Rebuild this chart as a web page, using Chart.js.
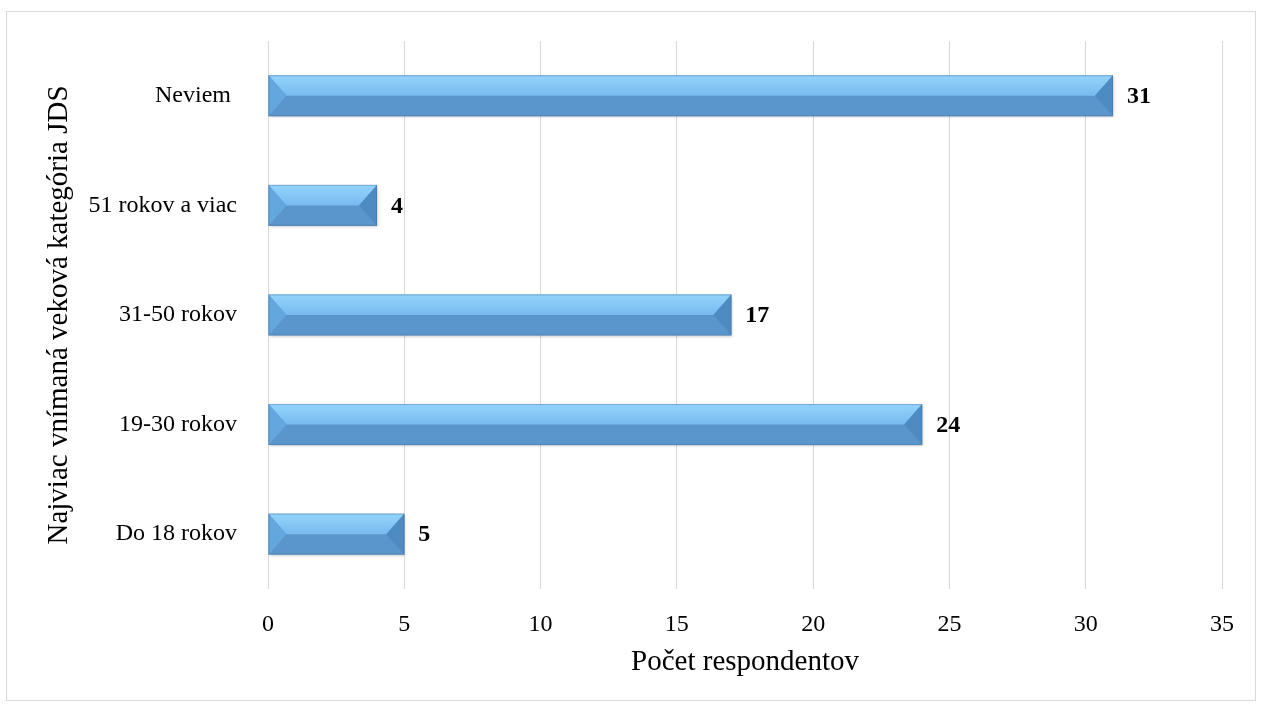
<!DOCTYPE html>
<html>
<head>
<meta charset="utf-8">
<script src="https://cdn.jsdelivr.net/npm/chart.js@4.4.0/dist/chart.umd.min.js"></script>
<style>
  body { margin: 0; background: #fff; }
  #box { position: absolute; left: 6px; top: 11px; width: 1250px; height: 690px;
         box-sizing: border-box; border: 1px solid #d9d9d9; }
  canvas { display: block; }
</style>
</head>
<body>
<div id="box"><canvas id="chart" width="1248" height="688"></canvas></div>
<script>
// data
const categories = ['Neviem ', '51 rokov a viac', '31-50 rokov', '19-30 rokov', 'Do 18 rokov'];
const counts = [31, 4, 17, 24, 5];
const xTicks = [0, 5, 10, 15, 20, 25, 30, 35];
const xTitle = 'Počet respondentov';
const yTitle = 'Najviac vnímaná veková kategória JDS';

const serif = "'Liberation Serif', 'DejaVu Serif', serif";

// beveled bars like excel + value labels
const bevel = {
  id: 'bevel',
  afterDatasetsDraw(chart) {
    const ctx = chart.ctx;
    const meta = chart.getDatasetMeta(0);
    meta.data.forEach((bar, i) => {
      const x0 = bar.base, x1 = bar.x;
      const y0 = bar.y - bar.height / 2, y1 = bar.y + bar.height / 2;
      const ym = bar.y;
      const d = Math.min(18, (x1 - x0) / 2);
      ctx.save();
      ctx.shadowColor = 'rgba(0,0,0,0.25)';
      ctx.shadowBlur = 3;
      ctx.shadowOffsetX = 1;
      ctx.shadowOffsetY = 1;
      ctx.fillStyle = '#5a96cc';
      ctx.fillRect(x0, y0, x1 - x0, y1 - y0);
      ctx.restore();

      ctx.save();
      let g = ctx.createLinearGradient(0, y0, 0, ym);
      g.addColorStop(0, '#93d4fd');
      g.addColorStop(1, '#78baee');
      ctx.fillStyle = g;
      ctx.beginPath();
      ctx.moveTo(x0, y0); ctx.lineTo(x1, y0); ctx.lineTo(x1 - d, ym); ctx.lineTo(x0 + d, ym);
      ctx.closePath(); ctx.fill();

      ctx.fillStyle = '#64a6de';
      ctx.beginPath();
      ctx.moveTo(x0, y0); ctx.lineTo(x0 + d, ym); ctx.lineTo(x0, y1);
      ctx.closePath(); ctx.fill();

      ctx.fillStyle = '#4f8bc3';
      ctx.beginPath();
      ctx.moveTo(x1, y0); ctx.lineTo(x1 - d, ym); ctx.lineTo(x1, y1);
      ctx.closePath(); ctx.fill();

      ctx.strokeStyle = 'rgba(60,100,140,0.35)';
      ctx.lineWidth = 1;
      ctx.strokeRect(x0 + 0.5, y0 + 0.5, x1 - x0 - 1, y1 - y0 - 1);

      ctx.fillStyle = '#000';
      ctx.font = 'bold 24px ' + serif;
      ctx.textAlign = 'left';
      ctx.textBaseline = 'middle';
      ctx.fillText(String(counts[i]), x1 + 14, ym + 1);
      ctx.restore();
    });
  }
};

new Chart(document.getElementById('chart').getContext('2d'), {
  type: 'bar',
  data: {
    labels: categories,
    datasets: [{
      data: counts,
      backgroundColor: 'rgba(0,0,0,0)',
      borderWidth: 0,
      barThickness: 41
    }]
  },
  options: {
    indexAxis: 'y',
    responsive: false,
    animation: false,
    layout: { padding: { left: 0, right: 33, top: 29, bottom: 0 } },
    plugins: { legend: { display: false }, tooltip: { enabled: false } },
    scales: {
      x: {
        min: 0, max: 35,
        afterBuildTicks: s => { s.ticks = xTicks.map(v => ({ value: v })); },
        grid: { color: '#d9d9d9', drawTicks: false },
        border: { display: false },
        ticks: { color: '#000', padding: 21, font: { family: serif, size: 24 } },
        title: { display: true, text: xTitle, color: '#000',
                 font: { family: serif, size: 29 }, padding: { top: 0, bottom: 20 } },
        afterFit: s => { s.height = 111; }
      },
      y: {
        grid: { display: false },
        border: { display: false },
        ticks: { color: '#000', padding: 23, font: { family: serif, size: 24 } },
        title: { display: true, text: yTitle, color: '#000',
                 font: { family: serif, size: 29 }, padding: { top: 35, bottom: 0 } },
        afterFit: s => { s.width = 261; s.paddingTop = 0; s.paddingBottom = 0; }
      }
    }
  },
  plugins: [bevel]
});
</script>
</body>
</html>
